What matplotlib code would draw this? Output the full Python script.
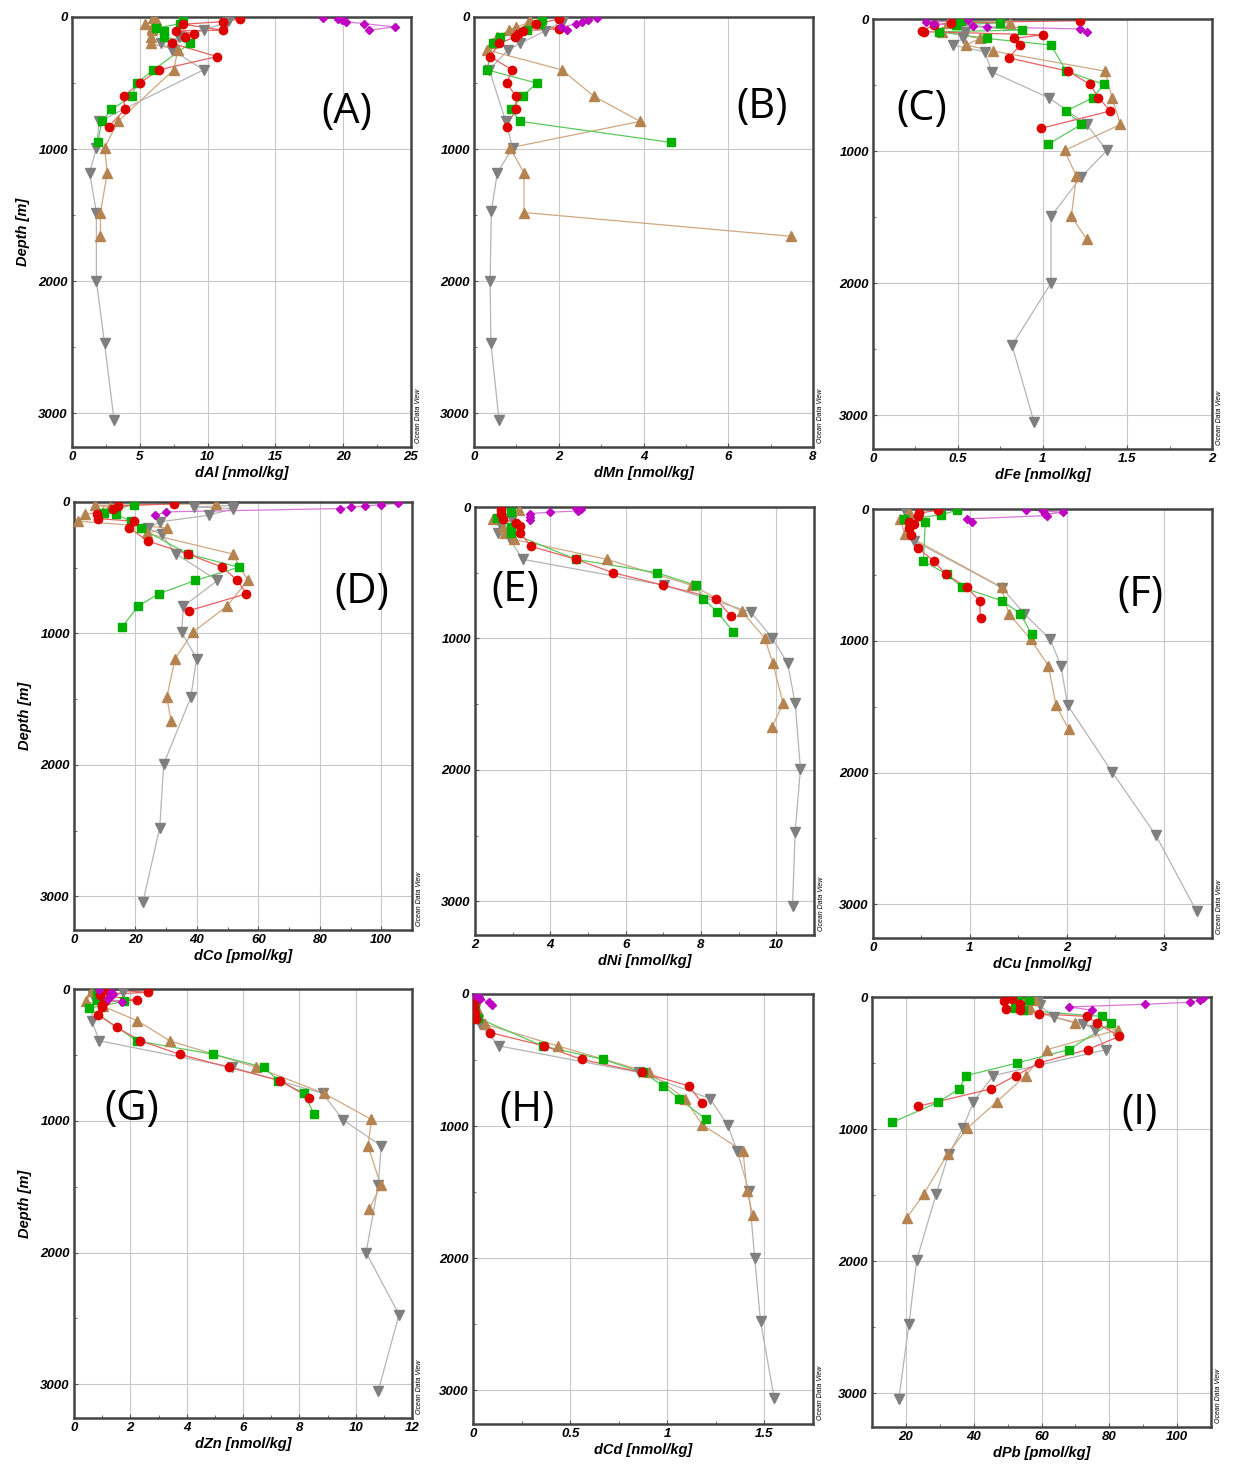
import matplotlib
matplotlib.use("Agg")
import matplotlib.pyplot as plt
from matplotlib.ticker import AutoMinorLocator, FormatStrFormatter

# each series: (depths [m], values)
# ---- (A) dAl [nmol/kg]
al_mag = ([5, 15, 25, 35, 50, 75, 100], [18.5, 19.6, 19.9, 20.2, 21.5, 23.8, 21.9])
al_red = ([15, 35, 55, 100, 105, 125, 150, 200, 300, 400, 500, 600, 700, 830],
          [12.4, 11.1, 8.2, 11.1, 7.7, 9.0, 8.3, 7.4, 10.7, 6.4, 5.0, 3.8, 3.9, 2.7])
al_grn = ([18, 50, 85, 105, 150, 200, 400, 500, 600, 700, 790, 950],
          [8.2, 8.0, 6.2, 6.8, 6.8, 8.7, 6.0, 4.8, 4.4, 2.9, 2.2, 1.9])
al_brn = ([10, 25, 50, 80, 100, 150, 200, 250, 400, 790, 990, 1180, 1480, 1660],
          [6.0, 6.2, 5.4, 5.9, 5.9, 5.8, 5.8, 7.8, 7.5, 3.4, 2.4, 2.6, 2.1, 2.1])
al_gry = ([20, 40, 100, 155, 200, 250, 400, 790, 990, 1180, 1480, 2000, 2470, 3050],
          [11.6, 11.4, 9.7, 7.9, 6.6, 7.4, 9.7, 2.0, 1.8, 1.3, 1.8, 1.8, 2.4, 3.1])

# ---- (B) dMn [nmol/kg]
mn_mag = ([10, 25, 40, 55, 75, 100], [2.9, 2.7, 2.55, 2.4, 2.05, 2.2])
mn_red = ([15, 55, 90, 105, 125, 150, 200, 300, 400, 500, 600, 700, 830],
          [2.0, 1.46, 2.0, 1.15, 1.05, 0.97, 0.6, 0.38, 0.9, 0.77, 0.99, 0.99, 0.77])
mn_grn = ([25, 50, 95, 150, 200, 400, 500, 600, 700, 790, 950],
          [1.6, 1.56, 1.24, 0.61, 0.44, 0.31, 1.48, 1.15, 0.87, 1.09, 4.66])
mn_brn = ([25, 45, 75, 100, 150, 200, 250, 400, 600, 790, 990, 1180, 1480, 1660],
          [1.31, 1.28, 1.0, 0.83, 0.55, 0.43, 0.31, 2.07, 2.83, 3.92, 0.85, 1.18, 1.18, 7.48])
mn_gry = ([30, 105, 200, 250, 400, 790, 990, 1180, 1470, 2000, 2470, 3050],
          [2.1, 1.68, 1.09, 0.8, 0.36, 0.75, 0.91, 0.55, 0.41, 0.38, 0.40, 0.59])

# ---- (C) dFe [nmol/kg]
fe_mag = ([10, 25, 40, 50, 60, 75, 100], [0.56, 0.31, 0.36, 0.59, 0.67, 1.22, 1.26])
fe_red = ([13, 28, 46, 89, 96, 120, 147, 197, 294, 395, 494, 595, 696, 828],
          [1.22, 0.46, 0.36, 0.29, 0.30, 1.0, 0.83, 0.87, 0.8, 1.15, 1.28, 1.33, 1.40, 0.99])
fe_grn = ([13, 28, 46, 84, 96, 147, 197, 395, 494, 595, 696, 798, 950],
          [0.52, 0.75, 0.49, 0.88, 0.39, 0.67, 1.05, 1.14, 1.36, 1.30, 1.14, 1.23, 1.03])
fe_brn = ([28, 33, 96, 147, 197, 243, 395, 595, 798, 995, 1190, 1494, 1666],
          [0.81, 0.44, 0.41, 0.63, 0.55, 0.71, 1.37, 1.41, 1.46, 1.13, 1.20, 1.17, 1.26])
fe_gry = ([20, 96, 147, 197, 248, 400, 598, 798, 995, 1193, 1494, 2000, 2470, 3050],
          [0.52, 0.54, 0.53, 0.47, 0.66, 0.70, 1.04, 1.26, 1.38, 1.23, 1.05, 1.05, 0.82, 0.95])

# ---- (D) dCo [pmol/kg]
co_mag = ([10, 20, 30, 40, 50, 75, 100], [105.6, 100, 94.8, 90, 86.5, 30, 26.5])
co_red = ([13, 30, 50, 93, 126, 146, 196, 297, 395, 496, 597, 698, 826],
          [32.6, 14.3, 12.6, 7.5, 7.8, 19.4, 18, 24, 37, 48.3, 53.2, 56.1, 37.5])
co_grn = ([20, 80, 93, 146, 200, 395, 496, 597, 698, 793, 950],
          [19.4, 9.7, 13.7, 18.4, 21.8, 37, 53.7, 39.4, 27.6, 20.8, 15.7])
co_brn = ([13, 25, 38, 75, 93, 146, 196, 239, 395, 597, 793, 990, 1191, 1486, 1663],
          [46.2, 6.7, 11.6, 9.6, 3.5, 1.3, 30.2, 23.7, 51.6, 56.6, 49.7, 38.7, 32.9, 30.2, 31.6])
co_gry = ([25, 38, 50, 100, 151, 201, 247, 395, 597, 793, 990, 1191, 1486, 1992, 2477, 3045],
          [51.6, 39.1, 51.9, 44, 28, 24, 28.5, 33.2, 46.7, 35.6, 35, 39.9, 38, 29.2, 27.9, 22.4])

# ---- (E) dNi [nmol/kg]
ni_mag = ([5, 15, 30, 40, 50, 75, 100], [4.68, 4.82, 4.73, 3.98, 3.45, 3.45, 3.47])
ni_red = ([25, 51, 94, 119, 147, 198, 299, 398, 499, 595, 696, 828],
          [2.70, 2.70, 2.74, 3.09, 3.2, 3.2, 3.49, 4.68, 5.66, 7.0, 8.39, 8.79])
ni_grn = ([38, 84, 152, 198, 398, 499, 595, 696, 798, 950],
          [2.96, 2.59, 2.96, 2.96, 4.68, 6.82, 7.86, 8.06, 8.43, 8.86])
ni_brn = ([25, 89, 152, 198, 246, 398, 595, 793, 995, 1190, 1494, 1671],
          [3.16, 2.48, 2.74, 2.8, 3.03, 5.5, 7.75, 9.08, 9.69, 9.91, 10.18, 9.89])
ni_gry = ([89, 144, 198, 246, 398, 595, 798, 995, 1190, 1494, 1990, 2468, 3037],
          [2.98, 2.70, 2.61, 2.92, 3.27, 7.02, 9.32, 9.89, 10.3, 10.5, 10.64, 10.5, 10.43])

# ---- (F) dCu [nmol/kg]
cu_mag = ([5, 15, 25, 40, 50, 75, 100], [1.58, 1.75, 1.96, 1.78, 1.80, 0.97, 1.02])
cu_red = ([8, 33, 51, 96, 116, 147, 197, 294, 395, 494, 595, 696, 828],
          [0.67, 0.47, 0.46, 0.37, 0.42, 0.37, 0.39, 0.46, 0.63, 0.75, 0.97, 1.10, 1.11])
cu_grn = ([8, 46, 76, 96, 395, 494, 595, 696, 793, 952],
          [0.87, 0.70, 0.32, 0.54, 0.52, 0.76, 0.92, 1.33, 1.52, 1.64])
cu_brn = ([25, 76, 192, 595, 793, 990, 1190, 1489, 1671],
          [0.37, 0.28, 0.33, 1.33, 1.40, 1.63, 1.81, 1.89, 2.02])
cu_gry = ([15, 147, 240, 598, 793, 990, 1190, 1489, 1997, 2475, 3052],
          [0.33, 0.39, 0.42, 1.33, 1.56, 1.83, 1.94, 2.01, 2.47, 2.92, 3.34])

# ---- (G) dZn [nmol/kg]
zn_mag = ([10, 25, 40, 55, 75, 95], [0.9, 1.3, 1.39, 1.27, 1.2, 1.69])
zn_red = ([5, 25, 43, 86, 94, 119, 137, 195, 292, 393, 495, 594, 695, 825],
          [1.22, 2.61, 0.94, 2.25, 1.10, 1.01, 0.98, 0.84, 1.53, 2.36, 3.75, 5.49, 7.32, 8.35])
zn_grn = ([18, 81, 94, 145, 393, 495, 594, 695, 792, 949],
          [0.83, 0.80, 1.78, 0.54, 2.22, 4.93, 6.73, 7.26, 8.18, 8.51])
zn_brn = ([18, 94, 132, 241, 393, 594, 792, 990, 1190, 1490, 1672],
          [0.63, 0.42, 1.04, 2.25, 3.40, 6.47, 8.88, 10.56, 10.44, 10.89, 10.48])
zn_gry = ([25, 56, 241, 393, 594, 792, 995, 1190, 1490, 2000, 2470, 3050],
          [1.75, 0.68, 0.63, 0.90, 5.62, 8.83, 9.56, 10.91, 10.8, 10.37, 11.54, 10.8])

# ---- (H) dCd [nmol/kg]
cd_mag = ([5, 15, 25, 40, 60, 80], [0.01, 0.02, 0.03, 0.035, 0.08, 0.10])
cd_red = ([10, 30, 60, 100, 145, 188, 292, 393, 495, 594, 695, 825],
          [0.005, 0.005, 0.005, 0.005, 0.01, 0.017, 0.087, 0.367, 0.559, 0.87, 1.11, 1.18])
cd_grn = ([30, 100, 183, 393, 495, 594, 695, 792, 949],
          [0.01, 0.012, 0.026, 0.358, 0.67, 0.874, 0.98, 1.06, 1.20])
cd_brn = ([43, 132, 228, 393, 594, 792, 990, 1190, 1490, 1672],
          [0.01, 0.026, 0.06, 0.436, 0.908, 1.09, 1.18, 1.39, 1.41, 1.44])
cd_gry = ([81, 228, 393, 594, 792, 990, 1190, 1490, 2000, 2479, 3057],
          [0.01, 0.035, 0.133, 0.856, 1.22, 1.31, 1.36, 1.42, 1.45, 1.48, 1.55])

# ---- (I) dPb [pmol/kg]
pb_mag = ([10, 25, 40, 55, 75, 100], [107.5, 106.8, 103.7, 90.5, 68.1, 75.0])
pb_red = ([13, 30, 51, 89, 101, 127, 147, 198, 299, 398, 499, 595, 696, 828],
          [51.2, 48.9, 53.7, 49.5, 53.7, 59.3, 73.3, 76.5, 82.9, 73.6, 59.3, 52.4, 45, 23.5])
pb_grn = ([13, 25, 84, 101, 147, 198, 398, 499, 595, 696, 798, 950],
          [53.2, 56.4, 52.2, 54.6, 77.9, 80.5, 68.1, 52.9, 37.8, 35.7, 29.4, 15.9])
pb_brn = ([13, 25, 68, 94, 198, 248, 398, 595, 793, 995, 1190, 1494, 1671],
          [55.6, 58.1, 56.4, 55.6, 69.9, 82.6, 61.7, 55.3, 46.8, 38, 32.3, 25.2, 20.3])
pb_gry = ([30, 63, 152, 203, 248, 400, 595, 793, 995, 1190, 1494, 1990, 2475, 3045],
          [59.1, 59.5, 63.8, 72.3, 75.9, 78.9, 45.8, 39.9, 36.8, 32.6, 28.9, 23.2, 20.9, 17.9])

panel_tags = ["(A)", "(B)", "(C)", "(D)", "(E)", "(F)", "(G)", "(H)", "(I)"]
x_labels = ["dAl [nmol/kg]", "dMn [nmol/kg]", "dFe [nmol/kg]",
            "dCo [pmol/kg]", "dNi [nmol/kg]", "dCu [nmol/kg]",
            "dZn [nmol/kg]", "dCd [nmol/kg]", "dPb [pmol/kg]"]
x_ticks = [[0, 5, 10, 15, 20, 25], [0, 2, 4, 6, 8], [0, 0.5, 1, 1.5, 2],
           [0, 20, 40, 60, 80, 100], [2, 4, 6, 8, 10], [0, 1, 2, 3],
           [0, 2, 4, 6, 8, 10, 12], [0, 0.5, 1, 1.5], [20, 40, 60, 80, 100]]
x_lims = [(0, 25), (0, 8), (0, 2), (0, 110), (2, 11), (0, 3.5),
          (0, 12), (0, 1.75), (10, 110)]
depth_ticks = [0, 1000, 2000, 3000]

profiles = [
    [al_gry, al_brn, al_grn, al_red, al_mag],
    [mn_gry, mn_brn, mn_grn, mn_red, mn_mag],
    [fe_gry, fe_brn, fe_grn, fe_red, fe_mag],
    [co_gry, co_brn, co_grn, co_red, co_mag],
    [ni_gry, ni_brn, ni_grn, ni_red, ni_mag],
    [cu_gry, cu_brn, cu_grn, cu_red, cu_mag],
    [zn_gry, zn_brn, zn_grn, zn_red, zn_mag],
    [cd_gry, cd_brn, cd_grn, cd_red, cd_mag],
    [pb_gry, pb_brn, pb_grn, pb_red, pb_mag],
]

# marker, marker colour, line colour, marker size (same order as profiles)
styles = [("v", "#7f7f7f", "#b4b4b4", 7.5),
          ("^", "#b5834f", "#cfa882", 7.5),
          ("s", "#00b000", "#5cc85c", 5.5),
          ("o", "#dd0000", "#e86060", 6.0),
          ("D", "#c000c0", "#d878d8", 4.5)]

# axes boxes in pixels: left, top, right, bottom
boxes = [(72, 17, 411, 447), (474, 17, 813, 447), (873, 19, 1212, 449),
         (74, 502, 412, 930), (475, 507, 814, 935), (873, 509, 1212, 938),
         (74, 989, 412, 1418), (473, 994, 813, 1424), (872, 997, 1211, 1427)]
tag_pos = [(0.81, 0.78), (0.85, 0.79), (0.145, 0.79),
           (0.85, 0.79), (0.12, 0.805), (0.79, 0.80),
           (0.17, 0.72), (0.16, 0.73), (0.79, 0.73)]

W, H = 1233, 1467
fig = plt.figure(figsize=(W / 100, H / 100), dpi=100)
tick_font = dict(family="Liberation Sans", weight="bold", style="italic")

for i in range(9):
    l, t, r, b = boxes[i]
    ax = fig.add_axes([l / W, 1 - b / H, (r - l) / W, (b - t) / H])
    for (depth, vals), (mk, mc, lc, ms) in zip(profiles[i], styles):
        ax.plot(vals, depth, color=lc, lw=0.9, zorder=2)
        ax.plot(vals, depth, ls="none", marker=mk, ms=ms, color=mc,
                markeredgecolor=mc, zorder=3)

    ax.set_xlim(*x_lims[i])
    ax.set_ylim(3255, 0)
    ax.set_xticks(x_ticks[i])
    ax.set_yticks(depth_ticks)
    ax.xaxis.set_major_formatter(FormatStrFormatter("%g"))
    ax.xaxis.set_minor_locator(AutoMinorLocator(2))
    ax.yaxis.set_minor_locator(AutoMinorLocator(2))
    ax.grid(True, which="major", color="#c8c8c8", lw=0.8)
    ax.set_axisbelow(True)
    ax.tick_params(which="both", direction="in", length=3, color="#555555",
                   labelsize=9, pad=3)
    ax.tick_params(which="minor", length=2)
    for lab in ax.get_xticklabels() + ax.get_yticklabels():
        lab.set_fontproperties(tick_font)
        lab.set_fontsize(9.5)
    for sp in ax.spines.values():
        sp.set_color("#444444")
        sp.set_linewidth(1.8)

    ax.set_xlabel(x_labels[i], fontsize=10.5, labelpad=2, **tick_font)
    if i % 3 == 0:
        ax.set_ylabel("Depth [m]", fontsize=10.5, labelpad=6, **tick_font)

    ax.text(tag_pos[i][0], tag_pos[i][1], panel_tags[i], transform=ax.transAxes,
            fontsize=30, family="Open Sans", ha="center", va="center")
    ax.text(1.012, 0.01, "Ocean Data View", transform=ax.transAxes,
            rotation=90, fontsize=5, style="italic", family="Liberation Sans",
            ha="left", va="bottom")

fig.savefig("out.png", dpi=100)
